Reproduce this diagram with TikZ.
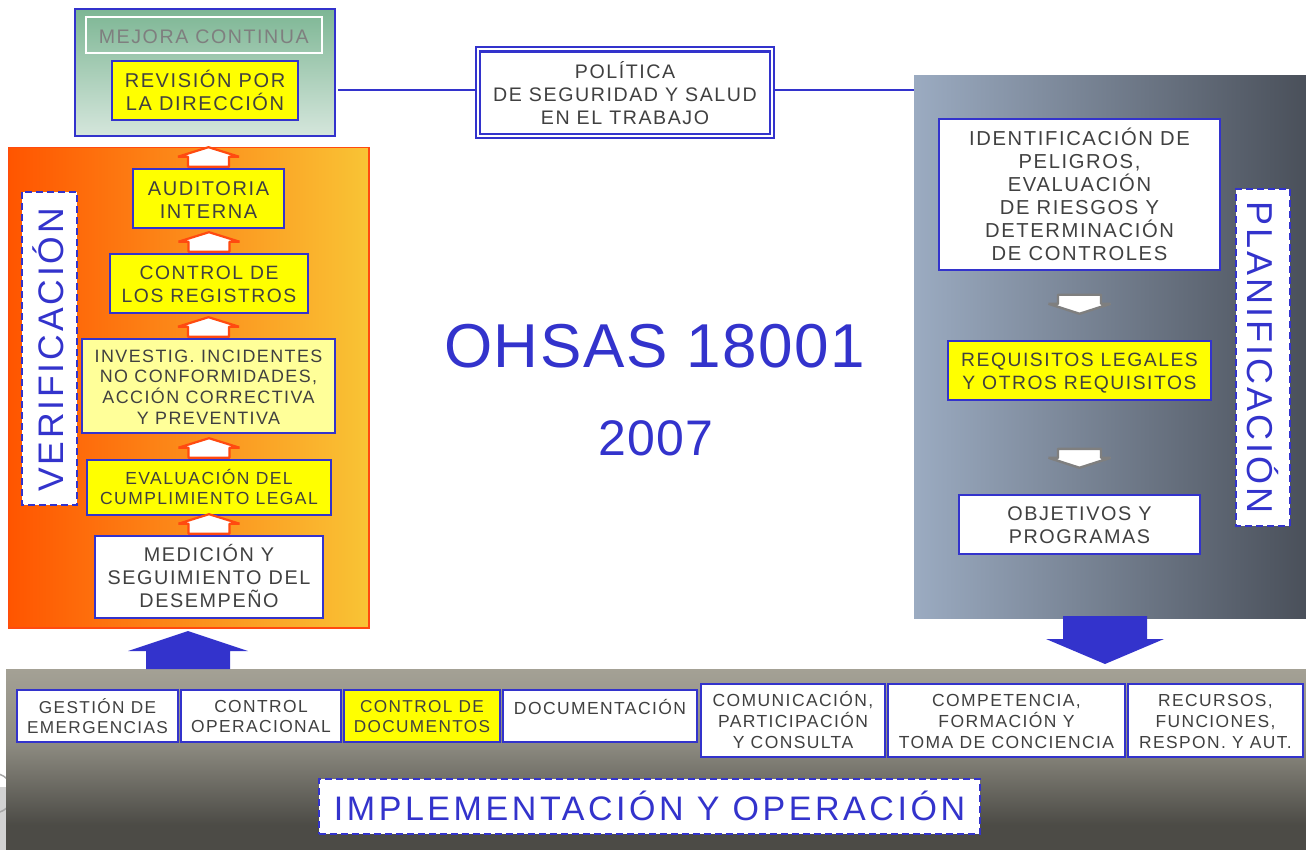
\documentclass[tikz,border=0pt]{standalone}
\usepackage{fontspec}
\setmainfont{Liberation Sans}[LetterSpace=8]
\newfontfamily\plainf{Liberation Sans}[LetterSpace=2.5]
\definecolor{blu}{HTML}{3333CC}
\definecolor{txt}{HTML}{404040}
\definecolor{orb}{HTML}{FF4A10}
\definecolor{grb}{HTML}{7F7F7F}
\definecolor{ia}{HTML}{A4A195}
\definecolor{ib}{HTML}{8C8A80}
\definecolor{ic}{HTML}{4C4B46}
\definecolor{yel}{HTML}{FFFF00}
\definecolor{pyel}{HTML}{FFFF99}
\definecolor{plL}{HTML}{9BABC1}
\definecolor{plR}{HTML}{4A505A}
\definecolor{mjT}{HTML}{7DB694}
\definecolor{mjB}{HTML}{D5E6DC}
\definecolor{vrL}{HTML}{FF5500}
\definecolor{vrR}{HTML}{F9C435}
\newcommand\fs[2]{\fontsize{#1}{#2}\selectfont}
\pgfdeclareverticalshading{implsh}{100bp}{color(0bp)=(ic);color(32bp)=(ic);color(54bp)=(ib);color(75bp)=(ia);color(100bp)=(ia)}
\tikzset{
 x=1pt,y=-1pt,
 base/.style={rectangle,inner sep=0pt,draw=blu,line width=2.6pt},
 whitebox/.style={base,fill=white},
 yellowbox/.style={base,fill=yel},
 paleyellow/.style={base,fill=pyel},
 lab/.style={inner sep=0pt,align=center,text=txt},
 dashbox/.style={rectangle,inner sep=0pt,fill=white,draw=blu,line width=2.2pt,dash pattern=on 7pt off 4pt},
 bluelab/.style={inner sep=0pt,align=center,text=blu},
 link/.style={draw=blu,line width=2pt},
 orangearrow/.style={draw=orb,line width=2.2pt,fill=white,line join=bevel},
 grayarrow/.style={draw=grb,line width=2.4pt,fill=white,line join=bevel},
 bigarrow/.style={fill=blu,draw=none},
}
\newcommand\pn[6]{\node[#1,minimum width={#5-#3},minimum height={#6-#4}] (#2) at ({(#3+#5)/2},{(#4+#6)/2}) {};}
% style, name, x1, y1, x2, y2, font size / leading, text drop, text
\newcommand\bx[9]{\pn{#1}{#2}{#3}{#4}{#5}{#6}\node[lab,font=\fs#7] (#2t) at ([yshift=-#8pt]#2.center) {#9};}
\newcommand\uparr[1]{\draw[orangearrow] (#1.north) ++(-20.5,-1) -- ++(0,-10) -- ++(-10,0) -- ++(30.5,-9.5) -- ++(30.5,9.5) -- ++(-10,0) -- ++(0,10) -- cycle;}
\newcommand\downarr[2]{\draw[grayarrow] (#1.south) ++(-21.5,#2) -- ++(0,9) -- ++(-9.5,0) -- ++(31,10) -- ++(31,-10) -- ++(-9.5,0) -- ++(0,-9) -- cycle;}
\begin{document}
\begin{tikzpicture}
\useasboundingbox (0,0) rectangle (1306,850);
% logo fragment
\fill[gray!35] (0,787) rectangle (6,850);
\draw[gray!70,line width=1.5pt] (0,812) arc[start angle=70,end angle=-70,radius=20];
% panels
\fill[shading=implsh] (6,669) rectangle (1306,850);
\pn{rectangle,left color=plL,right color=plR}{plan}{914}{76}{1306}{618}
\pn{rectangle,draw=blu,line width=2.6pt,top color=mjT,bottom color=mjB}{mej}{75}{9}{335}{136}
\pn{rectangle,draw=orb,line width=1.9pt,left color=vrL,right color=vrR}{ver}{8.5}{147.5}{369}{628}
% link
\coordinate (ml) at (338,90);
\coordinate (pa) at (476,90);
\coordinate (pb) at (775,90);
\coordinate (pl) at (914,90);
\draw[link] (ml) -- (pa);
\draw[link] (pb) -- (pl);
% top
\pn{rectangle,draw=white,line width=2pt}{mc}{85.5}{17.5}{322}{53.5}
\node[inner sep=0pt,text=grb,font=\fs{19.6}{23}] (mct) at ([yshift=-1pt]mc.center) {MEJORA CONTINUA};
\bx{yellowbox}{rev}{112}{61}{298}{120}{{20}{23}}{0}{REVISIÓN POR\\LA DIRECCIÓN}
\node[rectangle,inner sep=0pt,fill=white,draw=blu,line width=2.1pt,double=white,double distance=2pt,minimum width=294pt,minimum height=86.5pt] (pol) at (625,92.7) {};
\node[lab,font=\fs{19.6}{23}] (polt) at (pol.center) {POLÍTICA\\DE SEGURIDAD Y SALUD\\EN EL TRABAJO};
% verification column
\bx{yellowbox}{aud}{133}{169}{284}{228}{{20}{23}}{2}{AUDITORIA\\INTERNA}
\bx{yellowbox}{reg}{110}{254}{308}{313}{{19.3}{23}}{1}{CONTROL DE\\LOS REGISTROS}
\bx{paleyellow}{inv}{82}{339}{335}{433}{{17.9}{20.7}}{1}{INVESTIG. INCIDENTES\\NO CONFORMIDADES,\\ACCIÓN CORRECTIVA\\Y PREVENTIVA}
\bx{yellowbox}{eva}{87}{460}{331}{515}{{17.5}{20}}{-1}{EVALUACIÓN DEL\\CUMPLIMIENTO LEGAL}
\bx{whitebox}{med}{95}{536}{323}{618}{{19.8}{23}}{-1}{MEDICIÓN Y\\SEGUIMIENTO DEL\\DESEMPEÑO}
\uparr{aud}
\uparr{reg}
\uparr{inv}
\uparr{eva}
\uparr{med}
\node[dashbox,rotate=90,minimum width=313pt,minimum height=55pt] (vert) at (49.5,348.5) {};
\node[bluelab,rotate=90,font=\fs{35.5}{40}] (vertt) at ([xshift=-1pt,yshift=-1.5pt]vert.center) {VERIFICACIÓN};
% titles
\node[inner sep=0pt,text=blu,font=\plainf\fs{62}{66}] (tit) at (654.5,346) {OHSAS 18001};
\node[inner sep=0pt,text=blu,font=\plainf\fs{50}{54}] (yr) at (656,438) {2007};
% planning
\bx{whitebox}{ide}{939}{119}{1220}{270}{{20.2}{23}}{0}{IDENTIFICACIÓN DE\\PELIGROS,\\EVALUACIÓN\\DE RIESGOS Y\\DETERMINACIÓN\\DE CONTROLES}
\bx{yellowbox}{req}{948}{341}{1211}{400}{{19.3}{23}}{3}{REQUISITOS LEGALES\\Y OTROS REQUISITOS}
\bx{whitebox}{obj}{959}{495}{1200}{554}{{19.8}{23}}{1}{OBJETIVOS Y\\PROGRAMAS}
\downarr{ide}{23.5}
\downarr{req}{47.5}
\node[dashbox,rotate=-90,minimum width=337pt,minimum height=54pt] (plv) at (1263,357.5) {};
\node[bluelab,rotate=-90,font=\fs{36}{40}\addfontfeature{LetterSpace=8.5}] (plvt) at (plv.center) {PLANIFICACIÓN};
% big arrows
\coordinate (ba) at (188,669);
\coordinate (bb) at (1105,616);
\fill[bigarrow] (ba) ++(-42,0) -- ++(0,-18) -- ++(-18,0) -- ++(60,-20) -- ++(60,20) -- ++(-18,0) -- ++(0,18) -- cycle;
\fill[bigarrow] (bb) ++(-42,0) -- ++(0,23) -- ++(-17,0) -- ++(59,25) -- ++(59,-25) -- ++(-17,0) -- ++(0,-23) -- cycle;
% implementation boxes
\bx{whitebox}{ges}{17}{690}{178}{742}{{17.2}{20}}{0}{GESTIÓN DE\\EMERGENCIAS}
\bx{whitebox}{cop}{181}{690}{341}{742}{{17.4}{20}}{1}{CONTROL\\OPERACIONAL}
\bx{yellowbox}{doc}{344}{690}{500}{742}{{17.2}{20}}{1}{CONTROL DE\\DOCUMENTOS}
\pn{whitebox}{dct}{503}{690}{697}{742}
\node[lab,font=\fs{17.5}{20}] (dctt) at ([yshift=9pt]dct.center) {DOCUMENTACIÓN};
\bx{whitebox}{com}{701}{684}{885}{757}{{17.5}{21}}{-0.5}{COMUNICACIÓN,\\PARTICIPACIÓN\\Y CONSULTA}
\bx{whitebox}{cmp}{888}{684}{1125}{757}{{17.5}{21}}{0.5}{COMPETENCIA,\\FORMACIÓN Y\\TOMA DE CONCIENCIA}
\bx{whitebox}{rec}{1128}{684}{1303}{757}{{17.4}{21}}{1}{RECURSOS,\\FUNCIONES,\\RESPON. Y AUT.}
\pn{dashbox}{imp}{319}{779}{980}{834}
\node[bluelab,font=\fs{34}{36}\addfontfeature{LetterSpace=10.5}] (impt) at ([yshift=1pt]imp.center) {IMPLEMENTACIÓN Y OPERACIÓN};
\end{tikzpicture}
\end{document}
